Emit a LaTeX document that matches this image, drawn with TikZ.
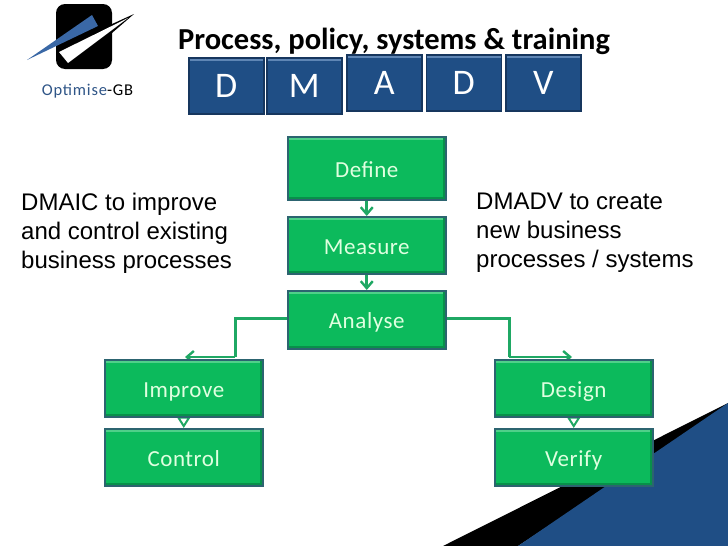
\documentclass[tikz,border=0pt]{standalone}
\usepackage{fontspec}
\setmainfont{Carlito}
\newfontfamily\arialf{Liberation Sans}
\usetikzlibrary{arrows.meta,calc,backgrounds}
\definecolor{boxgreen}{HTML}{0CBA5C}
\definecolor{boxedge}{HTML}{2C6470}
\definecolor{boxlight}{HTML}{4FD089}
\definecolor{boxdark}{HTML}{08904A}
\definecolor{linkgreen}{HTML}{1FA864}
\definecolor{navy}{HTML}{1F4E85}
\definecolor{navylight}{HTML}{5F86B5}
\definecolor{navydark}{HTML}{16365E}
\definecolor{logoblue}{HTML}{3A68A6}
\definecolor{logotext}{HTML}{2F5587}
\tikzset{
  bevelbox/.style={draw=#1, line width=1.5pt, inner sep=0pt, anchor=north west},
  flowbox/.style={bevelbox=boxedge, fill=boxgreen, minimum width=158pt, text=white!88!green,
    font=\addfontfeature{LetterSpace=2.5}\fontsize{23}{24}\selectfont, text height=18pt, text depth=0pt,
    path picture={
      \fill[boxlight] (path picture bounding box.north west) rectangle ($(path picture bounding box.north east)+(0,-3.5pt)$);
      \fill[boxdark] (path picture bounding box.south east) rectangle ($(path picture bounding box.north east)+(-2.5pt,0)$);
      \fill[boxdark] (path picture bounding box.south west) rectangle ($(path picture bounding box.south east)+(0,2.5pt)$);
    }},
  letterbox/.style={bevelbox=navydark, fill=navy, minimum width=75pt, minimum height=56pt, text=white,
    font=\fontsize{36}{38}\selectfont,
    path picture={
      \fill[navylight] (path picture bounding box.north west) rectangle ($(path picture bounding box.north east)+(0,-3.5pt)$);
    }},
  notetext/.style={anchor=north west, align=left, inner sep=0pt, font=\arialf\fontsize{24}{29}\selectfont},
  link/.style={draw=linkgreen, line width=3pt},
  linkv/.style={draw=linkgreen, line width=2.6pt, -{Straight Barb[length=7pt,width=12pt,line width=2.4pt]}},
  linkt/.style={draw=linkgreen, line width=2pt, -{Triangle[open,length=11.5pt,width=14pt,line width=2pt,fill=white]}},
}
\begin{document}
\begin{tikzpicture}[x=1pt,y=-1pt]
\useasboundingbox (0,0) rectangle (728,546);
% corner wedge
\fill[black] (443,546) -- (728,403) -- (728,408) -- (518,546) -- cycle;
\fill[navy] (518,546) -- (728,403) -- (728,546) -- cycle;
% logo
\fill[black, rounded corners=9pt] (56,4) rectangle (112,69);
\fill[logoblue] (27,60) -- (92,15) -- (98,26) -- cycle;
\fill[black] (134,14) -- (112,24) -- (112,33) -- cycle;
\fill[white] (128,18) -- (59,52) -- (68,63) -- cycle;
\node[anchor=center, inner sep=0pt, font=\addfontfeature{LetterSpace=5}\fontsize{16.5}{18}\selectfont] (logotext) at (87.5,91) {\textcolor{logotext}{Optimise}-GB};
% title
\node[anchor=center, inner sep=0pt, font=\bfseries\fontsize{30.5}{32}\selectfont] (title) at (394,41.5) {Process, policy, systems \& training};
% letter boxes
\node[letterbox] (l1) at (188,57) {\raisebox{-3pt}{D}};
\node[letterbox] (l2) at (266,57) {\raisebox{-3pt}{M}};
\node[letterbox] (l3) at (346,54) {\raisebox{-2pt}{A}};
\node[letterbox] (l4) at (425.5,54) {\raisebox{-2pt}{D}};
\node[letterbox] (l5) at (505,54) {\raisebox{-2pt}{V}};
% flow boxes
\node[flowbox, minimum height=63pt] (define) at (287,136) {Define};
\node[flowbox, minimum height=57pt] (measure) at (287,216) {Measure};
\node[flowbox, minimum height=58pt] (analyse) at (287,290) {Analyse};
\node[flowbox, minimum height=57pt] (improve) at (104,359) {Improve};
\node[flowbox, minimum height=57pt] (control) at (104,428) {Control};
\node[flowbox, minimum height=57pt] (design) at (494,359) {Design};
\node[flowbox, minimum height=57pt] (verify) at (494,428) {Verify};
% connectors
\coordinate (lbend) at (235,318.5);
\coordinate (ldown) at (235,357);
\coordinate (ltip) at (185,357);
\coordinate (rbend) at (509,318.5);
\coordinate (rdown) at (509,357);
\coordinate (rtip) at (572,357);
\begin{scope}[on background layer]
\draw[linkv] (define.south) -- (measure.north);
\draw[linkv] (measure.south) -- (analyse.north);
\draw[link, line join=miter] (analyse.west |- lbend) -- (lbend) -- (ldown);
\draw[link, line join=miter] (analyse.east |- rbend) -- (rbend) -- (rdown);
\draw[linkv] (ldown) -- (ltip);
\draw[linkv] (rdown) -- (rtip);
\draw[linkt] (improve.south) -- (control.north);
\draw[linkt] (design.south) -- (verify.north);
\end{scope}
% notes
\node[notetext] (leftnote) at (21,193) {DMAIC to improve\\and control existing\\business processes};
\node[notetext] (rightnote) at (476,193) {DMADV to create\\new business\\processes / systems};
\end{tikzpicture}
\end{document}
